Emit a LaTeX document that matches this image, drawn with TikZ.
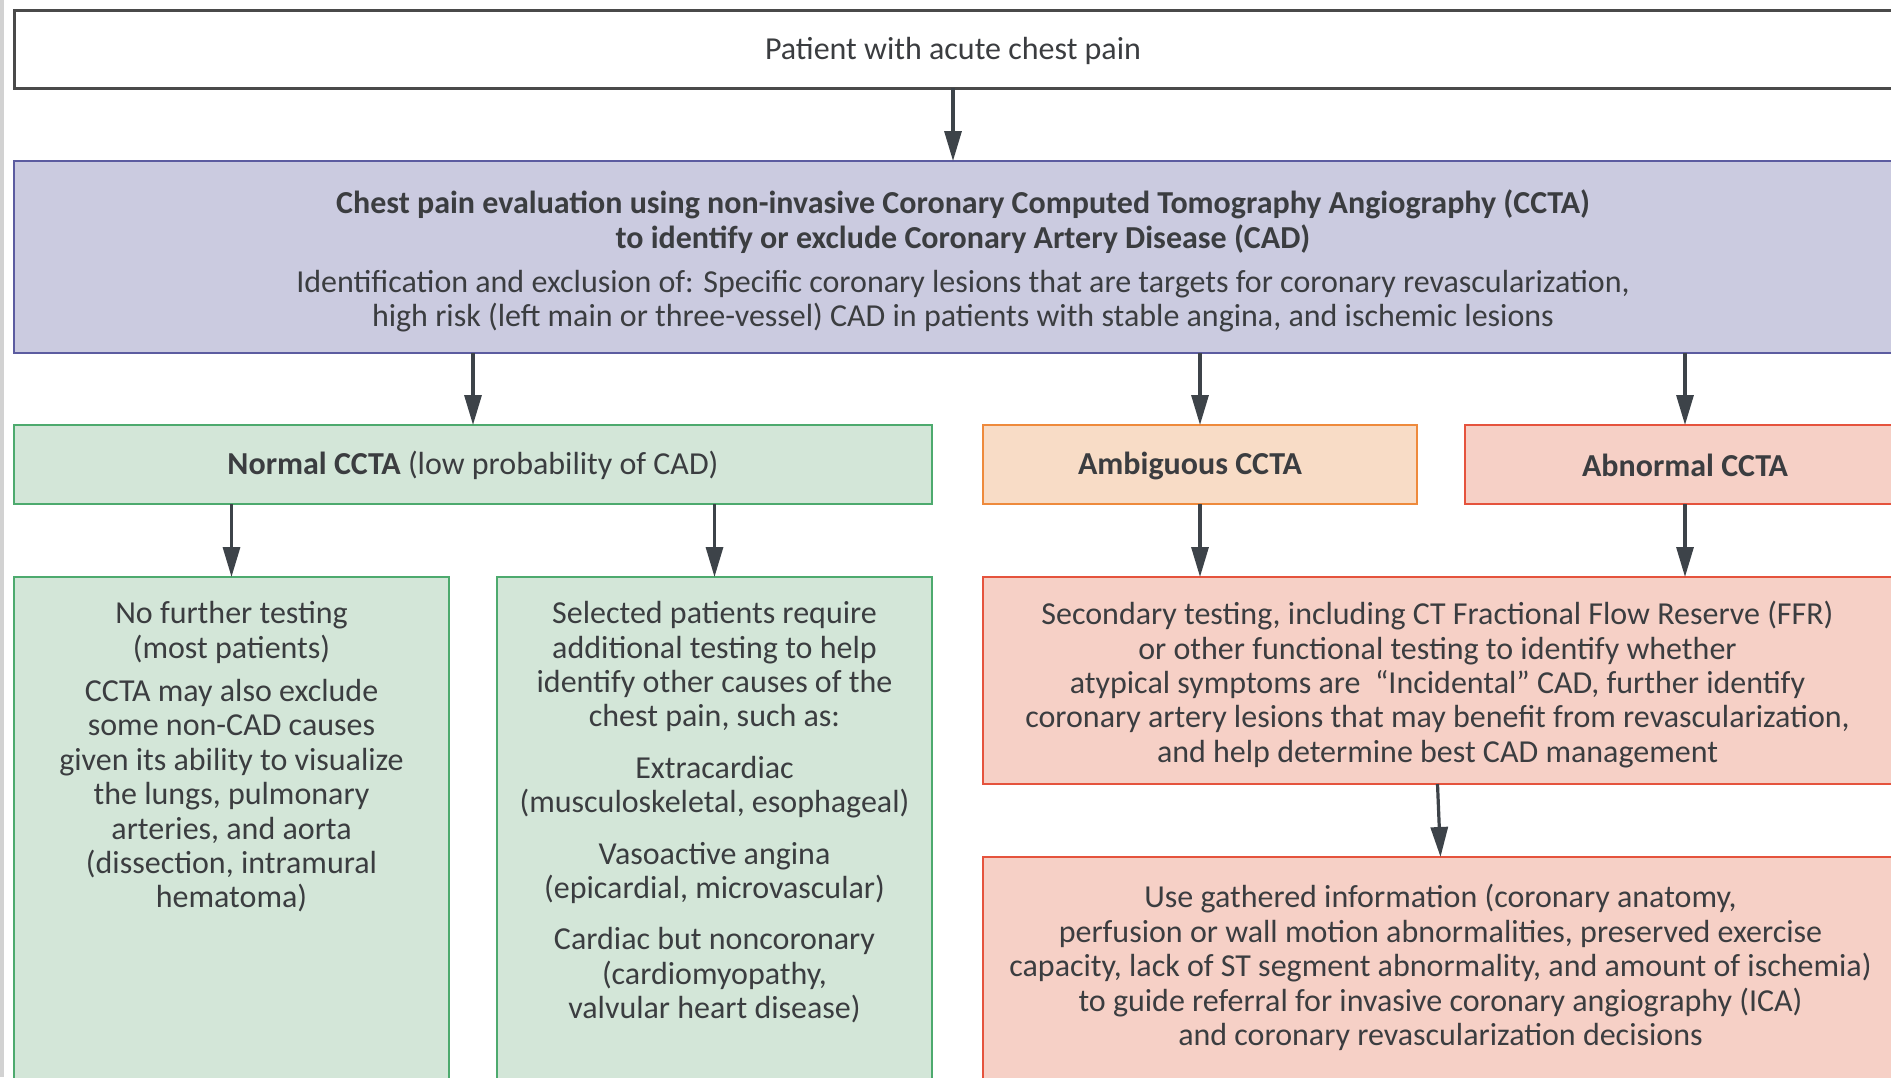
\documentclass[tikz,border=0pt]{standalone}
\usepackage{fontspec}
\setmainfont{Carlito}
\usetikzlibrary{arrows.meta}

\definecolor{inkgray}{HTML}{3B3D40}
\definecolor{arrowgray}{HTML}{3D4349}
\definecolor{topedge}{HTML}{4A4A4A}
\definecolor{purplefill}{HTML}{CBCBE0}
\definecolor{purpleedge}{HTML}{5C5CA0}
\definecolor{greenfill}{HTML}{D3E6D8}
\definecolor{greenedge}{HTML}{4DAA6E}
\definecolor{orangefill}{HTML}{F8DCC6}
\definecolor{orangeedge}{HTML}{EE8A3C}
\definecolor{redfill}{HTML}{F6D0C6}
\definecolor{rededge}{HTML}{E5533D}

\tikzset{
  panel/.style={rectangle, anchor=north west, inner sep=0pt, outer sep=0pt},
  plainbox/.style={panel, draw=topedge, fill=white, line width=1.5pt},
  purplebox/.style={panel, draw=purpleedge, fill=purplefill, line width=1.4pt},
  greenbox/.style={panel, draw=greenedge, fill=greenfill, line width=1.4pt},
  orangebox/.style={panel, draw=orangeedge, fill=orangefill, line width=1.4pt},
  redbox/.style={panel, draw=rededge, fill=redfill, line width=1.4pt},
  label/.style={text=inkgray, align=center, inner sep=0pt,
    font=\fontsize{16}{17.2}\selectfont},
  flow/.style={draw=arrowgray, line width=1.6pt,
    -{Triangle[length=15pt,width=8.5pt]}}
}

\begin{document}
\begin{tikzpicture}[x=0.5pt,y=-0.5pt]
\path[use as bounding box] (0,0) rectangle (1891,1077);
\clip (0,0) rectangle (1891,1077);
\fill[white] (0,0) rectangle (1891,1077);
\fill[gray!35] (0,0) rectangle (3.5,1077);

% boxes
\node[plainbox, minimum width=939pt, minimum height=39pt] (start) at (14,10) {};
\node[purplebox, minimum width=949pt, minimum height=96pt] (eval) at (14,161) {};
\node[greenbox, minimum width=459pt, minimum height=39.5pt] (normal) at (14,425) {};
\node[orangebox, minimum width=217pt, minimum height=39.5pt] (ambig) at (983,425) {};
\node[redbox, minimum width=220pt, minimum height=39.5pt] (abnorm) at (1465,425) {};
\node[greenbox, minimum width=217.5pt, minimum height=262pt] (nofurther) at (14,577) {};
\node[greenbox, minimum width=217.5pt, minimum height=262pt] (selected) at (497,577) {};
\node[redbox, minimum width=454.5pt, minimum height=103.5pt] (secondary) at (983,577) {};
\node[redbox, minimum width=457.5pt, minimum height=125pt] (gathered) at (983,857) {};

% texts
\node[label] (startT) at ([yshift=-1.2pt]start.center) {Patient with acute chest pain};
\node[label] (evalT) at ([yshift=-2pt]eval.center) {\textbf{Chest pain evaluation using non-invasive Coronary Computed Tomography Angiography (CCTA)}\\
\textbf{to identify or exclude Coronary Artery Disease (CAD)}\\[4.8pt]
Identification and exclusion of: Specific coronary lesions that are targets for coronary revascularization,\\
high risk (left main or three-vessel) CAD in patients with stable angina, and ischemic lesions};
\node[label] (normalT) at ([yshift=-0.6pt]normal.center) {\textbf{Normal CCTA} (low probability of CAD)};
\node[label] (ambigT) at ([xshift=-5pt,yshift=-0.6pt]ambig.center) {\textbf{Ambiguous CCTA}};
\node[label] (abnormT) at ([yshift=-0.6pt]abnorm.center) {\textbf{Abnormal CCTA}};
\node[label, anchor=north] (nofurtherT) at (nofurther.north |- 0,601) {No further testing\\
(most patients)\\[4.5pt]
CCTA may also exclude\\
some non-CAD causes\\
given its ability to visualize\\
the lungs, pulmonary\\
arteries, and aorta\\
(dissection, intramural\\
hematoma)};
\node[label, anchor=north] (selectedT) at (selected.north |- 0,601) {Selected patients require\\
additional testing to help\\
identify other causes of the\\
chest pain, such as:\\[8.5pt]
Extracardiac\\
(musculoskeletal, esophageal)\\[8.5pt]
Vasoactive angina\\
(epicardial, microvascular)\\[8.5pt]
Cardiac but noncoronary\\
(cardiomyopathy,\\
valvular heart disease)};
\node[label] (secondaryT) at ([yshift=-2pt]secondary.center) {Secondary testing, including CT Fractional Flow Reserve (FFR)\\
or other functional testing to identify whether\\
atypical symptoms are~ “Incidental” CAD, further identify\\
coronary artery lesions that may benefit from revascularization,\\
and help determine best CAD management};
\node[label, anchor=north] (gatheredT) at (gathered.north |- 0,884) {Use gathered information (coronary anatomy,\\
perfusion or wall motion abnormalities, preserved exercise\\
capacity, lack of ST segment abnormality, and amount of ischemia)\\
to guide referral for invasive coronary angiography (ICA)\\
and coronary revascularization decisions};

% connectors
\draw[flow] (start.south) -- (start.south |- eval.north);
\draw[flow] (eval.south -| normal.north) -- (normal.north);
\draw[flow] (eval.south -| ambig.north) -- (ambig.north);
\draw[flow] (eval.south -| abnorm.north) -- (abnorm.north);
\draw[flow] (normal.south -| nofurther.north) -- (nofurther.north);
\draw[flow] (normal.south -| selected.north) -- (selected.north);
\draw[flow] (ambig.south) -- (ambig.south |- secondary.north);
\draw[flow] (abnorm.south) -- (abnorm.south |- secondary.north);
\draw[flow] (secondary.south) -- (gathered.north);
\end{tikzpicture}
\end{document}
